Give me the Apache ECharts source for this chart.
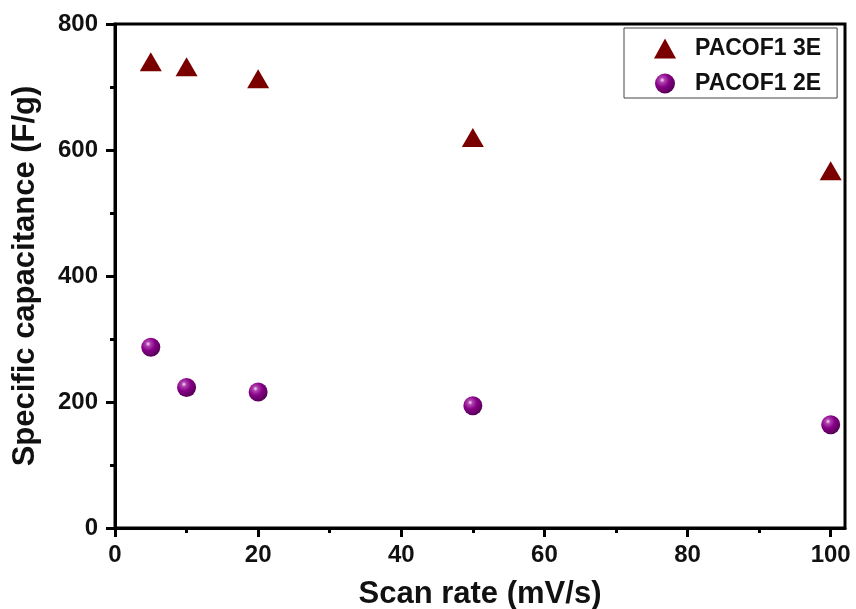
<!DOCTYPE html>
<html>
<head>
<meta charset="utf-8">
<script src="https://cdn.jsdelivr.net/npm/echarts@6/dist/echarts.min.js"></script>
<style>
html,body{margin:0;padding:0;background:#fff;}
#chart{width:856px;height:609px;}
</style>
</head>
<body>
<div id="chart"></div>
<script>
const scanRates = [5, 10, 20, 50, 100];
const cap3E = [740, 732, 713, 620, 567];
const cap2E = [287, 223, 216, 194, 164];
const xTickLabels = [0, 20, 40, 60, 80, 100];
const yTickLabels = [0, 200, 400, 600, 800];
const seriesNames = ['PACOF1 3E', 'PACOF1 2E'];

const font = 'Liberation Sans, Arial, sans-serif';
const chart = echarts.init(document.getElementById('chart'), null, {renderer: 'canvas'});

const sphere = new echarts.graphic.RadialGradient(0.36, 0.33, 0.72, [
  {offset: 0, color: '#f6e2f6'},
  {offset: 0.18, color: '#b040b0'},
  {offset: 0.5, color: '#860086'},
  {offset: 1, color: '#520052'}
]);

chart.setOption({
  animation: false,
  backgroundColor: '#ffffff',
  grid: {left: 115, right: 11, top: 24, bottom: 81, outerBoundsMode: 'none', containLabel: false, show: true, borderColor: '#000', borderWidth: 3, backgroundColor: 'transparent'},
  legend: {
    left: 624, top: 28, orient: 'vertical',
    itemWidth: 22, itemHeight: 20, itemGap: 12,
    padding: [9, 16, 3, 30],
    borderColor: '#444', borderWidth: 1,
    textStyle: {fontFamily: font, fontWeight: 'bold', fontSize: 23, color: '#111', padding: [0, 0, 0, 14], lineHeight: 20},
    data: seriesNames
  },
  xAxis: {
    type: 'value', min: 0, max: 102, interval: 20,
    name: 'Scan rate (mV/s)', nameLocation: 'middle', nameGap: 51,
    nameTextStyle: {fontFamily: font, fontWeight: 'bold', fontSize: 31, color: '#111'},
    axisLine: {show: true, onZero: false, lineStyle: {color: '#000', width: 3}},
    axisTick: {show: true, length: 9, lineStyle: {color: '#000', width: 3}, customValues: xTickLabels},
    minorTick: {show: true, splitNumber: 2, length: 5, lineStyle: {color: '#000', width: 3}},
    axisLabel: {fontFamily: font, fontWeight: 'bold', fontSize: 24, color: '#111', margin: 15, customValues: xTickLabels},
    splitLine: {show: false}
  },
  yAxis: {
    type: 'value', min: 0, max: 800, interval: 200,
    name: 'Specific capacitance (F/g)', nameLocation: 'middle', nameGap: 74,
    nameTextStyle: {fontFamily: font, fontWeight: 'bold', fontSize: 31, color: '#111'},
    axisLine: {show: true, onZero: false, lineStyle: {color: '#000', width: 3}},
    axisTick: {show: true, length: 9, lineStyle: {color: '#000', width: 3}},
    minorTick: {show: true, splitNumber: 2, length: 5, lineStyle: {color: '#000', width: 3}},
    axisLabel: {fontFamily: font, fontWeight: 'bold', fontSize: 24, color: '#111', margin: 17},
    splitLine: {show: false}
  },
  series: [
    {
      name: seriesNames[0], type: 'scatter', symbol: 'triangle', symbolSize: [22, 19],
      itemStyle: {color: '#7a0000', opacity: 1},
      data: scanRates.map((x, i) => [x, cap3E[i]])
    },
    {
      name: seriesNames[1], type: 'scatter', symbol: 'circle', symbolSize: 19,
      itemStyle: {color: sphere, opacity: 1},
      data: scanRates.map((x, i) => [x, cap2E[i]])
    }
  ]
});
</script>
</body>
</html>
